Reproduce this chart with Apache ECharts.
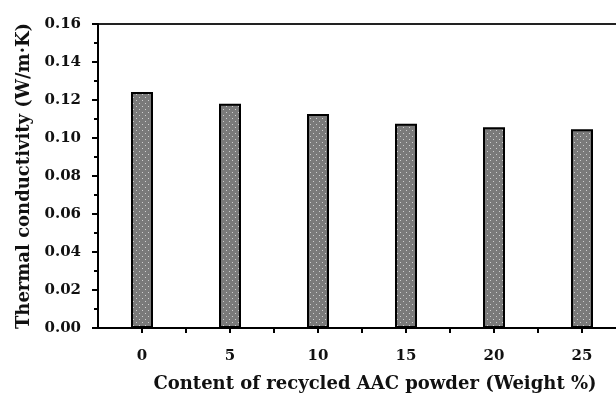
<!DOCTYPE html>
<html>
<head>
<meta charset="utf-8">
<script src="https://cdn.jsdelivr.net/npm/echarts@6/dist/echarts.min.js"></script>
<style>
  html, body { margin: 0; padding: 0; background: #fff; }
  #chart { width: 616px; height: 394px; }
</style>
</head>
<body>
<div id="chart"></div>
<script>
const contents = [0, 5, 10, 15, 20, 25]
const conductivity = [0.1242, 0.118, 0.1126, 0.1075, 0.1056, 0.1046]
const yTicks = [0, 0.02, 0.04, 0.06, 0.08, 0.1, 0.12, 0.14, 0.16]

const font = 'DejaVu Serif'

// dotted grey fill like the original bars
function makePattern() {
  const c = document.createElement('canvas')
  c.width = 6
  c.height = 6
  const ctx = c.getContext('2d')
  ctx.fillStyle = '#7a7a7a'
  ctx.fillRect(0, 0, 6, 6)
  ctx.fillStyle = '#cfcfcf'
  ctx.fillRect(1, 1, 1, 1)
  ctx.fillRect(4, 4, 1, 1)
  return c
}

const chart = echarts.init(document.getElementById('chart'))
const option = {
  backgroundColor: '#fff',
  animation: false,
  grid: {
    left: 98,
    right: -10,
    top: 24,
    bottom: 66,
    outerBoundsMode: 'none',
    containLabel: false,
    show: true,
    borderColor: '#222',
    borderWidth: 2
  },
  xAxis: {
    type: 'value',
    min: -2.5,
    max: 27.5,
    interval: 2.5,
    axisLine: { show: true, onZero: false, lineStyle: { color: '#000', width: 2 } },
    axisTick: { show: true, inside: false, length: 5, lineStyle: { color: '#000', width: 2 } },
    splitLine: { show: false },
    axisLabel: {
      color: '#111',
      fontFamily: font,
      fontWeight: 'bold',
      fontSize: 15,
      margin: 21,
      showMinLabel: false,
      showMaxLabel: false,
      formatter: v => (contents.includes(v) ? String(v) : '')
    },
    name: 'Content of recycled AAC powder (Weight %)',
    nameLocation: 'middle',
    nameGap: 47,
    nameTextStyle: {
      color: '#111',
      fontFamily: font,
      fontWeight: 'bold',
      fontSize: 18,
      padding: [0, 0, 0, 26]
    }
  },
  yAxis: {
    type: 'value',
    min: 0,
    max: 0.16,
    interval: 0.02,
    axisLine: { show: true, onZero: false, lineStyle: { color: '#000', width: 2 } },
    axisTick: { show: true, inside: false, length: 6, lineStyle: { color: '#000', width: 2 } },
    minorTick: { show: true, splitNumber: 2, length: 4, lineStyle: { color: '#000', width: 2 } },
    splitLine: { show: false },
    axisLabel: {
      color: '#111',
      fontFamily: font,
      fontWeight: 'bold',
      fontSize: 15,
      margin: 17,
      formatter: v => v.toFixed(2)
    },
    name: 'Thermal conductivity (W/m·K)',
    nameLocation: 'middle',
    nameGap: 61,
    nameTextStyle: {
      color: '#111',
      fontFamily: font,
      fontWeight: 'bold',
      fontSize: 18
    }
  },
  series: [
    {
      type: 'bar',
      barWidth: 22,
      data: contents.map((c, i) => [c, conductivity[i]]),
      itemStyle: {
        color: { image: makePattern(), repeat: 'repeat' },
        borderColor: '#000',
        borderWidth: 2
      }
    }
  ]
}
chart.setOption(option)
</script>
</body>
</html>
